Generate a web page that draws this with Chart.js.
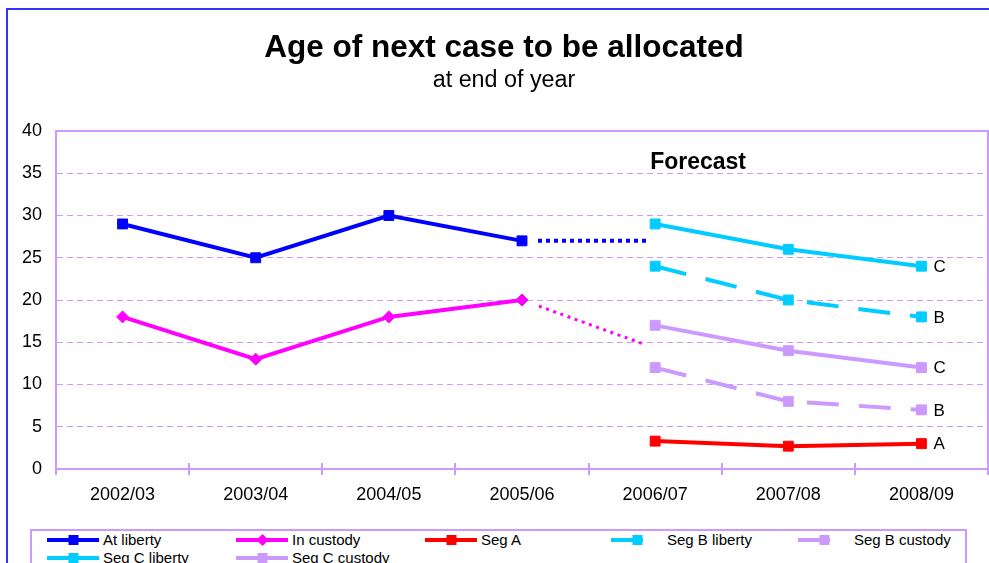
<!DOCTYPE html>
<html><head><meta charset="utf-8">
<script src="https://cdn.jsdelivr.net/npm/chart.js@4"></script>
<style>
html,body{margin:0;padding:0;background:#fff;width:989px;height:563px;overflow:hidden;font-family:"Liberation Sans",Arial,sans-serif;}
#frame{position:absolute;left:6px;top:8px;width:1100px;height:700px;border-left:2px solid #3333FF;border-top:2px solid #3333FF;}
#title{position:absolute;left:0;width:1008px;top:27px;text-align:center;font-weight:bold;font-size:31.5px;line-height:38px;color:#000;}
#subtitle{position:absolute;left:0;width:1008px;top:65px;text-align:center;font-size:23.3px;line-height:28px;color:#000;}
#wrap{position:absolute;left:0;top:0;width:989px;height:563px;}
#legend{position:absolute;left:30px;top:529px;width:933px;height:60px;border:2px solid #CC99FF;background:#fff;}
.item{position:absolute;height:18px;font-size:15px;line-height:18px;white-space:nowrap;color:#000;}
.item svg{position:absolute;left:0;top:0;}
.item span{position:absolute;top:0;}
</style>
</head><body>
<div id="frame"></div>
<div id="wrap"><canvas id="c" width="989" height="563"></canvas></div>
<div id="title">Age of next case to be allocated</div>
<div id="subtitle">at end of year</div>
<div id="legend"></div>
<script>
const categories = ['2002/03','2003/04','2004/05','2005/06','2006/07','2007/08','2008/09'];
const atLiberty   = [29, 25, 30, 27, null, null, null];
const inCustody   = [18, 13, 18, 20, null, null, null];
const segA        = [null, null, null, null, 3.3, 2.7, 3.0];
const segBLiberty = [null, null, null, null, 24, 20, 18];
const segBCustody = [null, null, null, null, 12, 8, 7];
const segCLiberty = [null, null, null, null, 29, 26, 24];
const segCCustody = [null, null, null, null, 17, 14, 12];
const libertyProjection = [null, null, null, 27, 27, null, null];
const custodyProjection = [null, null, null, 20, 14.3, null, null];
const yMin = 0, yMax = 40, yStep = 5;
const forecastLabel = 'Forecast';

const FONT = '"Liberation Sans", Arial, sans-serif';

// dotted styles: leading gap, repeated dots, trailing gap
function dotted(lead, dot, gap, count) {
  const arr = [0, lead];
  for (let i = 0; i < count; i++) arr.push(dot, gap);
  arr.push(0, 400);
  return arr;
}

function series(label, data, color, opts) {
  return Object.assign({
    label, data,
    borderColor: color, backgroundColor: color,
    pointBackgroundColor: color, pointBorderColor: color,
    borderWidth: 4, pointRadius: 7, pointHoverRadius: 7, pointBorderWidth: 1,
    pointStyle: 'rect', tension: 0, spanGaps: false, fill: false,
    borderCapStyle: 'butt', borderJoinStyle: 'miter',
    inLegend: true
  }, opts || {});
}

const datasets = [
  series('At liberty', atLiberty, '#0000FF'),
  series('In custody', inCustody, '#FF00FF', {pointStyle: 'rectRot', pointRadius: 6}),
  series('Seg A', segA, '#FF0000', {endLabel: 'A'}),
  series('Seg B liberty', segBLiberty, '#00CCFF', {borderDash: [32, 20], endLabel: 'B'}),
  series('Seg B custody', segBCustody, '#CC99FF', {borderDash: [32, 20], endLabel: 'B'}),
  series('Seg C liberty', segCLiberty, '#00CCFF', {endLabel: 'C'}),
  series('Seg C custody', segCCustody, '#CC99FF', {endLabel: 'C'}),
  series('At liberty forecast', libertyProjection, '#0000FF', {borderDash: dotted(16, 4, 4, 14), pointRadius: 0, inLegend: false}),
  series('In custody forecast', custodyProjection, '#FF00FF', {borderDash: dotted(18, 3, 4.6, 15), borderWidth: 3, pointRadius: 0, inLegend: false})
];

const decorPlugin = {
  id: 'decor',
  beforeDatasetsDraw(chart) {
    const {ctx, chartArea: a} = chart;
    ctx.save();
    ctx.strokeStyle = '#CC99FF';
    ctx.lineWidth = 2;
    ctx.strokeRect(a.left, a.top, a.right - a.left, a.bottom - a.top);
    // tick marks crossing the x axis
    const xs = chart.scales.x;
    for (let i = 0; i <= categories.length; i++) {
      const px = Math.round(xs.getPixelForValue(i - 0.5));
      ctx.beginPath();
      ctx.moveTo(px, a.bottom - 6);
      ctx.lineTo(px, a.bottom + 6);
      ctx.stroke();
    }
    ctx.restore();
  },
  afterDatasetsDraw(chart) {
    const {ctx} = chart;
    const xs = chart.scales.x, ys = chart.scales.y;
    ctx.save();
    ctx.fillStyle = '#000';
    ctx.font = '17px ' + FONT;
    ctx.textAlign = 'left';
    ctx.textBaseline = 'middle';
    chart.data.datasets.forEach((ds, i) => {
      if (!ds.endLabel) return;
      const meta = chart.getDatasetMeta(i);
      const pts = meta.data;
      const last = pts[pts.length - 1];
      ctx.fillText(ds.endLabel, last.x + 12, last.y + 1);
    });
    ctx.font = 'bold 23px ' + FONT;
    ctx.textBaseline = 'alphabetic';
    ctx.fillText(forecastLabel, xs.getPixelForValue(4) - 5, ys.getPixelForValue(35.5));
    ctx.restore();
  }
};

const chart = new Chart(document.getElementById('c'), {
  type: 'line',
  data: {labels: categories, datasets},
  plugins: [decorPlugin],
  options: {
    responsive: false,
    animation: false,
    devicePixelRatio: 1,
    layout: {autoPadding: false, padding: {top: 131, left: 0, right: 1, bottom: 0}},
    plugins: {legend: {display: false}, title: {display: false}, tooltip: {enabled: false}},
    scales: {
      x: {
        type: 'category',
        offset: true,
        grid: {offset: true, drawOnChartArea: false, color: '#CC99FF', tickLength: 6, lineWidth: 2},
        border: {color: '#CC99FF', width: 2},
        ticks: {color: '#000', font: {family: FONT, size: 18}, padding: 9, maxRotation: 0, autoSkip: false},
        afterFit(s) { s.height = 94; }
      },
      y: {
        min: yMin, max: yMax,
        grid: {color: '#CC99FF', drawTicks: false, lineWidth: 1},
        border: {color: '#CC99FF', width: 2, dash: [6, 4]},
        ticks: {stepSize: yStep, color: '#000', font: {family: FONT, size: 18}, padding: 14},
        afterFit(s) { s.width = 56; }
      }
    }
  }
});

// HTML legend built from the datasets
const legend = document.getElementById('legend');
const colX = [47, 236, 425, 611, 798];
const rowY = [529, 547];
datasets.filter(d => d.inLegend).forEach((d, i) => {
  const col = i % 5, row = Math.floor(i / 5);
  const item = document.createElement('div');
  item.className = 'item';
  item.style.left = (colX[col] - 32) + 'px';
  item.style.top = (rowY[row] - 529) + 'px';
  const dash = d.borderDash ? d.borderDash.join(',') : 'none';
  let marker;
  if (d.pointStyle === 'rectRot') {
    marker = `<polygon points="20.5,9 26.5,3 32.5,9 26.5,15" fill="${d.borderColor}"/>`;
  } else {
    marker = `<rect x="21.5" y="4" width="10" height="10" fill="${d.borderColor}"/>`;
  }
  item.innerHTML = `<svg width="53" height="18"><line x1="0" y1="9" x2="52" y2="9" stroke="${d.borderColor}" stroke-width="4" stroke-linecap="butt" stroke-dasharray="${dash}"/>${marker}</svg><span style="left:56px">${d.label}</span>`;
  legend.appendChild(item);
});
</script>
</body></html>
